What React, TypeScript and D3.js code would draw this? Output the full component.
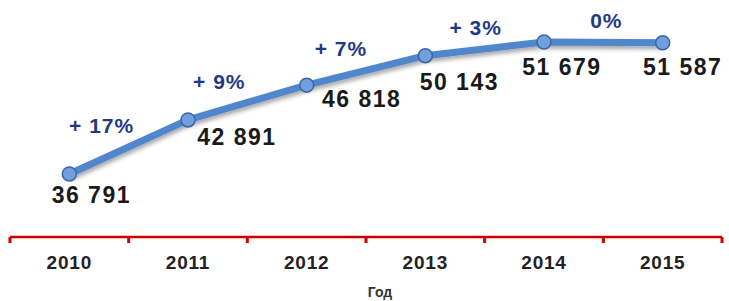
import React, { useEffect, useRef } from "react";
import * as d3 from "d3";

const years = ["2010", "2011", "2012", "2013", "2014", "2015"];
const values = [36791, 42891, 46818, 50143, 51679, 51587];
const growth = ["+ 17%", "+ 9%", "+ 7%", "+ 3%", "0%"];
const axisTitle = "Год";

// label nudges (layout only)
const valueDx = [22, 49, 55, 34, 18, 20];
const valueDy = [29, 25, 22, 34, 33, 32];
const growthDx = [-27, -28, -25, -9, 3];

const fmt = (v: number) => d3.format(",")(v).replace(",", " ");

function LineChart() {
  const svgRef = useRef<SVGSVGElement>(null);

  useEffect(() => {
    const width = 729;
    const height = 301;
    const axisY = 237;

    const svg = d3.select(svgRef.current).attr("width", width).attr("height", height);
    svg.selectAll("*").remove();

    const x = d3.scaleBand().domain(years).range([10, 722]).padding(0);
    const cx = (d: string) => (x(d) as number) + x.bandwidth() / 2;
    const y = d3.scaleLinear().domain([30000, 55000]).range([234.2, 12.6]);

    const defs = svg.append("defs");
    const f = defs.append("filter").attr("id", "shadow").attr("x", "-10%").attr("y", "-30%").attr("width", "120%").attr("height", "160%");
    f.append("feDropShadow").attr("dx", 1).attr("dy", 3).attr("stdDeviation", 2).attr("flood-color", "#000").attr("flood-opacity", 0.35);

    // axis
    const axis = svg.append("g").attr("transform", `translate(0,${axisY})`);
    axis.call(d3.axisBottom(x).tickSize(0).tickPadding(19));
    axis.select(".domain").remove();
    axis.selectAll("text")
      .attr("font-family", "Liberation Sans, Arial, sans-serif")
      .attr("font-weight", "bold")
      .attr("font-size", 19)
      .attr("letter-spacing", 0.8)
      .attr("fill", "#222");
    const edges = years.map(d => x(d) as number).concat([x.range()[1]]);
    axis.append("line").attr("x1", edges[0]).attr("x2", edges[edges.length - 1]).attr("stroke", "#d00000").attr("stroke-width", 2.5);
    axis.selectAll(".edge").data(edges).enter().append("line")
      .attr("x1", d => d).attr("x2", d => d).attr("y1", 0).attr("y2", 6)
      .attr("stroke", "#d00000").attr("stroke-width", 3);

    svg.append("text")
      .attr("x", 380).attr("y", 297)
      .attr("text-anchor", "middle")
      .attr("font-family", "Liberation Sans, Arial, sans-serif")
      .attr("font-weight", "bold").attr("font-size", 14).attr("fill", "#333")
      .text(axisTitle);

    const pts = years.map((d, i) => [cx(d), y(values[i])] as [number, number]);

    svg.append("path")
      .attr("d", d3.line()(pts))
      .attr("fill", "none")
      .attr("stroke", "#4f86cc")
      .attr("stroke-width", 7)
      .attr("stroke-linejoin", "round")
      .attr("filter", "url(#shadow)");

    svg.selectAll(".pt").data(pts).enter().append("circle")
      .attr("cx", d => d[0]).attr("cy", d => d[1]).attr("r", 7)
      .attr("fill", "#6f9fdc").attr("stroke", "#3a66a8").attr("stroke-width", 1.5);

    svg.selectAll(".val").data(values).enter().append("text")
      .attr("x", (d, i) => pts[i][0] + valueDx[i])
      .attr("y", (d, i) => pts[i][1] + valueDy[i])
      .attr("text-anchor", "middle")
      .attr("font-family", "Liberation Sans, Arial, sans-serif")
      .attr("font-weight", "bold").attr("font-size", 23).attr("letter-spacing", 1.5)
      .attr("fill", "#1a1a1a")
      .text(d => fmt(d));

    svg.selectAll(".gr").data(growth).enter().append("text")
      .attr("x", (d, i) => (pts[i][0] + pts[i + 1][0]) / 2 + growthDx[i])
      .attr("y", (d, i) => (pts[i][1] + pts[i + 1][1]) / 2 - 14)
      .attr("text-anchor", "middle")
      .attr("font-family", "Liberation Sans, Arial, sans-serif")
      .attr("font-weight", "bold").attr("font-size", 21).attr("letter-spacing", 1)
      .attr("fill", "#1f3a85")
      .text(d => d);
  }, []);

  return <svg ref={svgRef} style={{ position: "absolute", left: 0, top: 0 }}></svg>;
}

export default function App() {
  return <LineChart />;
}
